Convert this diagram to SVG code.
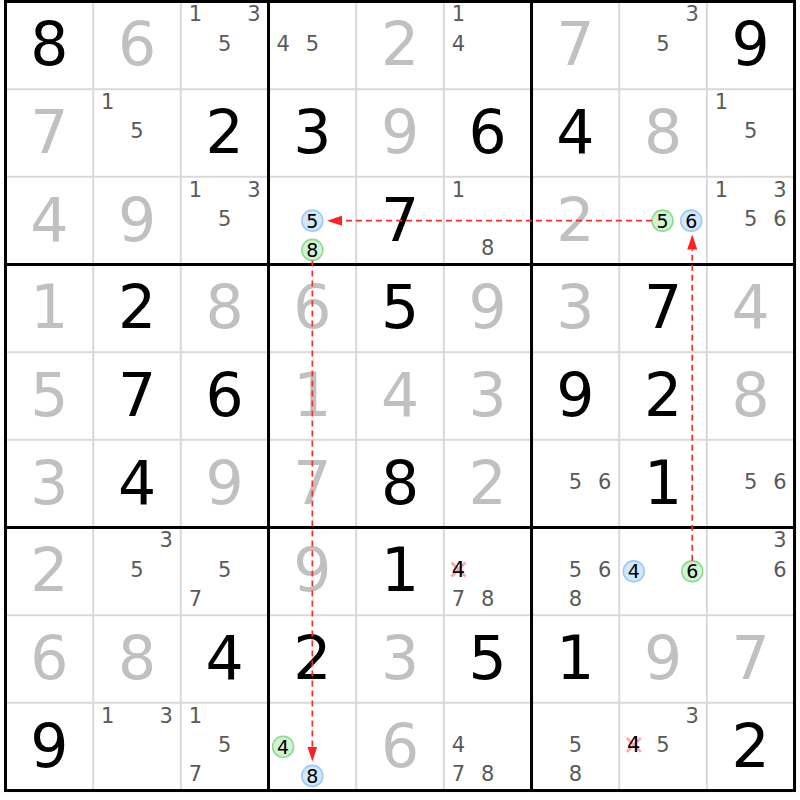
<svg xmlns="http://www.w3.org/2000/svg" width="800" height="800" viewBox="0 0 800 800">
<style>
text{font-family:"DejaVu Sans","Liberation Sans",sans-serif;text-anchor:middle}
.g{font-size:60px;fill:#000}
.s{font-size:60px;fill:#c0c0c0}
.c{font-size:21px;fill:#5a5a5a}
.x{font-size:21px;fill:#000}
.k{font-size:19px;fill:#000}
.cb{fill:#d2e7fc;stroke:#9ccaf6;stroke-width:1.6}
.cg{fill:#d3f2d3;stroke:#8fdc8f;stroke-width:1.6}
.thin{stroke:#d9d9d9;stroke-width:2;fill:none}
.thick{stroke:#000;stroke-width:3;fill:none}
.cross{stroke:#ff8f99;stroke-width:2.6;stroke-opacity:0.8;fill:none}
.link{stroke:#ff2a2a;stroke-width:1.7;stroke-dasharray:6,4;fill:none}
</style>
<defs>
<marker id="ah" markerUnits="userSpaceOnUse" markerWidth="15" markerHeight="10" refX="0" refY="5" orient="auto">
<path d="M0,0 L15,5 L0,10 z" fill="#ff2020"/>
</marker>
</defs>
<rect x="0" y="0" width="800" height="800" fill="#fff"/>
<g id="grid">
<path class="thin" d="M93.17,1.5V790.53M180.84,1.5V790.53M356.18,1.5V790.53M443.85,1.5V790.53M619.19,1.5V790.53M706.86,1.5V790.53M5.5,89.17H794.53M5.5,176.84H794.53M5.5,352.18H794.53M5.5,439.85H794.53M5.5,615.19H794.53M5.5,702.86H794.53"/>
<path class="thick" d="M268.51,1.5V790.53M531.52,1.5V790.53M5.5,264.51H794.53M5.5,527.52H794.53"/>
<rect class="thick" x="5.5" y="1.5" width="789.03" height="789.03"/>
</g>
<g id="r1">
<g id="r1c1"><text class="g" x="49.33" y="65.3">8</text></g>
<g id="r1c2"><text class="s" x="137" y="65.3">6</text></g>
<g id="r1c3"><text class="c" x="195.45" y="21.4">1</text><text class="c" x="253.89" y="21.4">3</text><text class="c" x="224.67" y="50.6">5</text></g>
<g id="r1c4"><text class="c" x="283.12" y="50.6">4</text><text class="c" x="312.34" y="50.6">5</text></g>
<g id="r1c5"><text class="s" x="400.01" y="65.3">2</text></g>
<g id="r1c6"><text class="c" x="458.46" y="21.4">1</text><text class="c" x="458.46" y="50.6">4</text></g>
<g id="r1c7"><text class="s" x="575.35" y="65.3">7</text></g>
<g id="r1c8"><text class="c" x="692.24" y="21.4">3</text><text class="c" x="663.02" y="50.6">5</text></g>
<g id="r1c9"><text class="g" x="750.69" y="65.3">9</text></g>
</g>
<g id="r2">
<g id="r2c1"><text class="s" x="49.33" y="153">7</text></g>
<g id="r2c2"><text class="c" x="107.78" y="109.1">1</text><text class="c" x="137" y="138.3">5</text></g>
<g id="r2c3"><text class="g" x="224.67" y="153">2</text></g>
<g id="r2c4"><text class="g" x="312.34" y="153">3</text></g>
<g id="r2c5"><text class="s" x="400.01" y="153">9</text></g>
<g id="r2c6"><text class="g" x="487.68" y="153">6</text></g>
<g id="r2c7"><text class="g" x="575.35" y="153">4</text></g>
<g id="r2c8"><text class="s" x="663.02" y="153">8</text></g>
<g id="r2c9"><text class="c" x="721.47" y="109.1">1</text><text class="c" x="750.69" y="138.3">5</text></g>
</g>
<g id="r3">
<g id="r3c1"><text class="s" x="49.33" y="240.7">4</text></g>
<g id="r3c2"><text class="s" x="137" y="240.7">9</text></g>
<g id="r3c3"><text class="c" x="195.45" y="196.8">1</text><text class="c" x="253.89" y="196.8">3</text><text class="c" x="224.67" y="226">5</text></g>
<g id="r3c4"><circle class="cb" cx="312.34" cy="220.67" r="10.5"/><text class="k" x="312.34" y="227.5">5</text><circle class="cg" cx="312.34" cy="249.89" r="10.5"/><text class="k" x="312.34" y="256.7">8</text></g>
<g id="r3c5"><text class="g" x="400.01" y="240.7">7</text></g>
<g id="r3c6"><text class="c" x="458.46" y="196.8">1</text><text class="c" x="487.68" y="255.2">8</text></g>
<g id="r3c7"><text class="s" x="575.35" y="240.7">2</text></g>
<g id="r3c8"><circle class="cg" cx="662.5" cy="220.67" r="10.5"/><text class="k" x="662.5" y="227.5">5</text><circle class="cb" cx="691.2" cy="220.67" r="10.5"/><text class="k" x="691.2" y="227.5">6</text></g>
<g id="r3c9"><text class="c" x="721.47" y="196.8">1</text><text class="c" x="779.91" y="196.8">3</text><text class="c" x="750.69" y="226">5</text><text class="c" x="779.91" y="226">6</text></g>
</g>
<g id="r4">
<g id="r4c1"><text class="s" x="49.33" y="328.3">1</text></g>
<g id="r4c2"><text class="g" x="137" y="328.3">2</text></g>
<g id="r4c3"><text class="s" x="224.67" y="328.3">8</text></g>
<g id="r4c4"><text class="s" x="312.34" y="328.3">6</text></g>
<g id="r4c5"><text class="g" x="400.01" y="328.3">5</text></g>
<g id="r4c6"><text class="s" x="487.68" y="328.3">9</text></g>
<g id="r4c7"><text class="s" x="575.35" y="328.3">3</text></g>
<g id="r4c8"><text class="g" x="663.02" y="328.3">7</text></g>
<g id="r4c9"><text class="s" x="750.69" y="328.3">4</text></g>
</g>
<g id="r5">
<g id="r5c1"><text class="s" x="49.33" y="416">5</text></g>
<g id="r5c2"><text class="g" x="137" y="416">7</text></g>
<g id="r5c3"><text class="g" x="224.67" y="416">6</text></g>
<g id="r5c4"><text class="s" x="312.34" y="416">1</text></g>
<g id="r5c5"><text class="s" x="400.01" y="416">4</text></g>
<g id="r5c6"><text class="s" x="487.68" y="416">3</text></g>
<g id="r5c7"><text class="g" x="575.35" y="416">9</text></g>
<g id="r5c8"><text class="g" x="663.02" y="416">2</text></g>
<g id="r5c9"><text class="s" x="750.69" y="416">8</text></g>
</g>
<g id="r6">
<g id="r6c1"><text class="s" x="49.33" y="503.7">3</text></g>
<g id="r6c2"><text class="g" x="137" y="503.7">4</text></g>
<g id="r6c3"><text class="s" x="224.67" y="503.7">9</text></g>
<g id="r6c4"><text class="s" x="312.34" y="503.7">7</text></g>
<g id="r6c5"><text class="g" x="400.01" y="503.7">8</text></g>
<g id="r6c6"><text class="s" x="487.68" y="503.7">2</text></g>
<g id="r6c7"><text class="c" x="575.35" y="489">5</text><text class="c" x="604.57" y="489">6</text></g>
<g id="r6c8"><text class="g" x="663.02" y="503.7">1</text></g>
<g id="r6c9"><text class="c" x="750.69" y="489">5</text><text class="c" x="779.91" y="489">6</text></g>
</g>
<g id="r7">
<g id="r7c1"><text class="s" x="49.33" y="591.4">2</text></g>
<g id="r7c2"><text class="c" x="166.22" y="547.4">3</text><text class="c" x="137" y="576.7">5</text></g>
<g id="r7c3"><text class="c" x="224.67" y="576.7">5</text><text class="c" x="195.45" y="605.9">7</text></g>
<g id="r7c4"><text class="s" x="312.34" y="591.4">9</text></g>
<g id="r7c5"><text class="g" x="400.01" y="591.4">1</text></g>
<g id="r7c6"><path class="cross" d="M451.5,562.5L465.5,576.5M465.5,562.5L451.5,576.5"/><text class="x" x="458.46" y="576.7">4</text><text class="c" x="458.46" y="605.9">7</text><text class="c" x="487.68" y="605.9">8</text></g>
<g id="r7c7"><text class="c" x="575.35" y="576.7">5</text><text class="c" x="604.57" y="576.7">6</text><text class="c" x="575.35" y="605.9">8</text></g>
<g id="r7c8"><circle class="cb" cx="633.8" cy="571.35" r="10.5"/><text class="k" x="633.8" y="578.2">4</text><circle class="cg" cx="692.24" cy="571.35" r="10.5"/><text class="k" x="692.24" y="578.2">6</text></g>
<g id="r7c9"><text class="c" x="779.91" y="547.4">3</text><text class="c" x="779.91" y="576.7">6</text></g>
</g>
<g id="r8">
<g id="r8c1"><text class="s" x="49.33" y="679">6</text></g>
<g id="r8c2"><text class="s" x="137" y="679">8</text></g>
<g id="r8c3"><text class="g" x="224.67" y="679">4</text></g>
<g id="r8c4"><text class="g" x="312.34" y="679">2</text></g>
<g id="r8c5"><text class="s" x="400.01" y="679">3</text></g>
<g id="r8c6"><text class="g" x="487.68" y="679">5</text></g>
<g id="r8c7"><text class="g" x="575.35" y="679">1</text></g>
<g id="r8c8"><text class="s" x="663.02" y="679">9</text></g>
<g id="r8c9"><text class="s" x="750.69" y="679">7</text></g>
</g>
<g id="r9">
<g id="r9c1"><text class="g" x="49.33" y="766.7">9</text></g>
<g id="r9c2"><text class="c" x="107.78" y="722.8">1</text><text class="c" x="166.22" y="722.8">3</text></g>
<g id="r9c3"><text class="c" x="195.45" y="722.8">1</text><text class="c" x="224.67" y="752">5</text><text class="c" x="195.45" y="781.2">7</text></g>
<g id="r9c4"><circle class="cg" cx="283.12" cy="746.69" r="10.5"/><text class="k" x="283.12" y="753.5">4</text><circle class="cb" cx="312.34" cy="775.91" r="10.5"/><text class="k" x="312.34" y="782.7">8</text></g>
<g id="r9c5"><text class="s" x="400.01" y="766.7">6</text></g>
<g id="r9c6"><text class="c" x="458.46" y="752">4</text><text class="c" x="458.46" y="781.2">7</text><text class="c" x="487.68" y="781.2">8</text></g>
<g id="r9c7"><text class="c" x="575.35" y="752">5</text><text class="c" x="575.35" y="781.2">8</text></g>
<g id="r9c8"><text class="c" x="692.24" y="722.8">3</text><path class="cross" d="M626.8,737.8L640.8,751.8M640.8,737.8L626.8,751.8"/><text class="x" x="633.8" y="752">4</text><text class="c" x="663.02" y="752">5</text></g>
<g id="r9c9"><text class="g" x="750.69" y="766.7">2</text></g>
</g>
<g id="connectors">
<path class="link" d="M652,220.67H342" marker-end="url(#ah)"/>
<path class="link" d="M692.24,560.8V249.5" marker-end="url(#ah)"/>
<path class="link" d="M312.34,260.4V746.5" marker-end="url(#ah)"/>
</g>
</svg>
